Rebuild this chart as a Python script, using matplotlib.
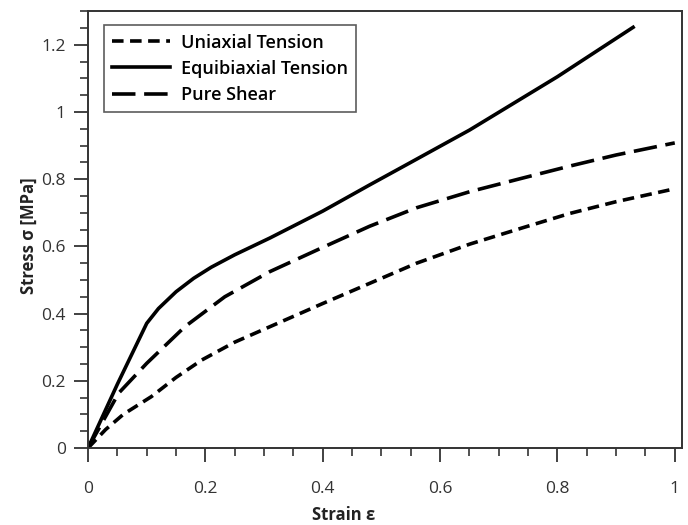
import matplotlib
matplotlib.use("Agg")
import matplotlib.pyplot as plt
from matplotlib.ticker import MultipleLocator, FuncFormatter

# Data
uni_x = [0, 0.03, 0.06, 0.108, 0.15, 0.194, 0.25, 0.31, 0.4, 0.48, 0.56, 0.651, 0.74, 0.821, 0.9, 0.991]
uni_y = [0, 0.055, 0.10, 0.153, 0.21, 0.262, 0.315, 0.361, 0.43, 0.49, 0.55, 0.607, 0.655, 0.698, 0.733, 0.768]

equi_x = [0, 0.05, 0.1, 0.12, 0.15, 0.18, 0.21, 0.25, 0.31, 0.4, 0.48, 0.55, 0.65, 0.8, 0.929]
equi_y = [0, 0.19, 0.371, 0.415, 0.465, 0.505, 0.538, 0.575, 0.625, 0.705, 0.783, 0.85, 0.946, 1.105, 1.252]

shear_x = [0, 0.052, 0.1, 0.165, 0.233, 0.31, 0.4, 0.48, 0.56, 0.651, 0.74, 0.821, 0.9, 1.0]
shear_y = [0, 0.163, 0.252, 0.361, 0.45, 0.525, 0.597, 0.66, 0.715, 0.763, 0.803, 0.839, 0.872, 0.908]

labels = ["Uniaxial Tension", "Equibiaxial Tension", "Pure Shear"]

plt.rcParams['font.family'] = ['Open Sans', 'DejaVu Sans']

fig = plt.figure(figsize=(6.88, 5.25), dpi=100)
ax = fig.add_axes([0.128, 0.1467, 0.863, 0.832])

lw = 2.6
ax.plot(uni_x, uni_y, color='black', lw=lw, linestyle=(0, (3.2, 1.8)), label=labels[0])
ax.plot(equi_x, equi_y, color='black', lw=lw, linestyle='-', label=labels[1])
ax.plot(shear_x, shear_y, color='black', lw=lw, linestyle=(0, (6.5, 2.4)), label=labels[2])

ax.set_xlim(0, 1.012)
ax.set_ylim(0, 1.3)
ax.xaxis.set_major_locator(MultipleLocator(0.2))
ax.xaxis.set_minor_locator(MultipleLocator(0.05))
ax.yaxis.set_major_locator(MultipleLocator(0.2))
ax.yaxis.set_minor_locator(MultipleLocator(0.05))

fmt = FuncFormatter(lambda v, p: ('%g' % round(v, 2)))
ax.xaxis.set_major_formatter(fmt)
ax.yaxis.set_major_formatter(fmt)

for s in ax.spines.values():
    s.set_color('#333333')
    s.set_linewidth(1.4)

ax.tick_params(which='major', direction='out', length=10, width=1.3, color='#333333',
               labelsize=12.5, labelcolor='#333333')
ax.tick_params(which='minor', direction='out', length=6, width=1.2, color='#333333')
ax.tick_params(axis='x', which='major', pad=14)
ax.tick_params(axis='y', which='major', pad=6)

ax.set_xlabel('Strain ε', fontsize=12, fontweight='bold', color='#222222')
ax.set_ylabel('Stress σ [MPa]', fontsize=12, fontweight='bold', color='#222222')
ax.xaxis.set_label_coords(0.5, 0.037, transform=fig.transFigure)
ax.yaxis.set_label_coords(0.055, 0.552, transform=fig.transFigure)

leg = ax.legend(loc='upper left', bbox_to_anchor=(0.012, 0.988), frameon=True, fancybox=False,
                edgecolor='#333333', handlelength=3.2, prop={'size': 13, 'weight': 'semibold'},
                borderpad=0.45, labelspacing=0.45, handletextpad=0.6)
leg.get_frame().set_linewidth(1.2)

fig.savefig('out.png', dpi=100)
